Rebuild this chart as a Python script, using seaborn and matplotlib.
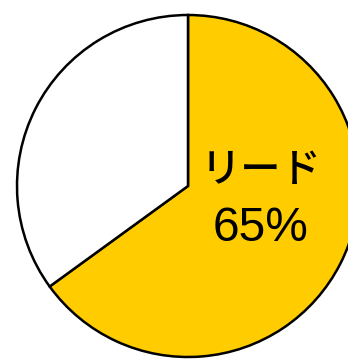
import matplotlib
matplotlib.use("Agg")
import matplotlib.pyplot as plt
import seaborn as sns

# data
labels = ["リード", "その他"]
values = [65, 35]
colors = ["#FFCC00", "#FFFFFF"]

sns.set_style("white")
plt.rcParams['font.family'] = ['Liberation Sans', 'Noto Sans CJK JP', 'DejaVu Sans']

fig = plt.figure(figsize=(3.48, 3.59), dpi=100)
ax = fig.add_axes([0, 0, 1, 1])

ax.pie(values, colors=colors, startangle=90, counterclock=False, radius=1,
       wedgeprops=dict(edgecolor="black", linewidth=1.8))

# circle centre at (188, 186) px, radius 171 px
r = 171
ax.set_xlim(-188 / r, (348 - 188) / r)
ax.set_ylim(-(359 - 186) / r, 186 / r)
ax.set_aspect("auto")
ax.axis("off")

ax.text(0.427, 0.088, labels[0], ha="center", va="center", fontsize=29,
        weight="medium", color="black", family=['Noto Sans CJK JP', 'DejaVu Sans'])
ax.text(0.427, -0.251, f"{values[0]}%", ha="center", va="center", fontsize=34.5,
        color="black")

fig.savefig("out.png", dpi=100)
